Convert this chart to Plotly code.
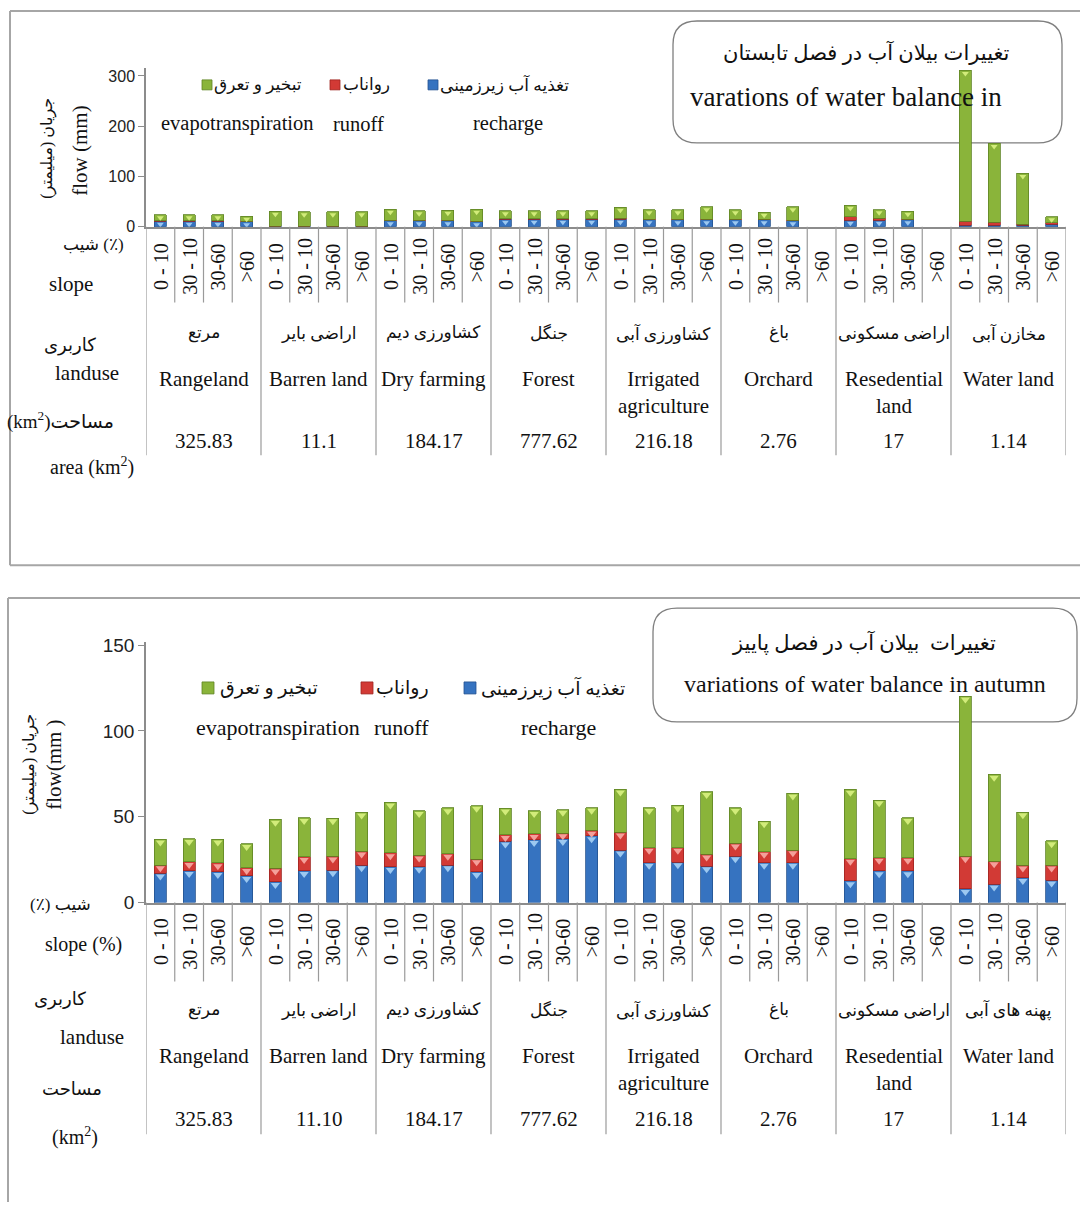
import plotly.graph_objects as go

W, H = 1080, 1213
# The photographed page is vertically offset/compressed slightly; compensate so that
# reference pixel positions land where they appear in the reference.
Y_OFF, Y_S = 6.0, 0.9867
def px(x): return x / W
def py(y): return 1 - ((y - Y_OFF) / Y_S) / H

SERIF = "Liberation Serif, DejaVu Serif, DejaVu Sans"
SANS = "Liberation Sans, Arial, DejaVu Sans"

slopes = ["0 - 10", "30 - 10", "30-60", ">60"]
landuse_en = ["Rangeland", "Barren land", "Dry farming", "Forest",
              "Irrigated<br>agriculture", "Orchard", "Resedential<br>land", "Water land"]
landuse_fa_summer = ["مرتع", "اراضی بایر", "کشاورزی دیم", "جنگل",
                     "کشاورزی آبی", "باغ", "اراضی مسکونی", "مخازن آبی"]
landuse_fa_autumn = ["مرتع", "اراضی بایر", "کشاورزی دیم", "جنگل",
                     "کشاورزی آبی", "باغ", "اراضی مسکونی", "پهنه های آبی"]
area_summer = ["325.83", "11.1", "184.17", "777.62", "216.18", "2.76", "17", "1.14"]
area_autumn = ["325.83", "11.10", "184.17", "777.62", "216.18", "2.76", "17", "1.14"]

# Summer (mm)
summer_recharge = [11, 11, 11, 10,  0.5, 0.5, 0.5, 0.5,  12, 12, 12, 10,  15, 15, 15, 15,
                   15, 14, 14, 14,  14, 14, 12, None,  13, 13, 14, None,  3, 3, 3, 5]
summer_runoff = [1, 1, 1, 1,  0.5, 0.5, 0.5, 0.5,  1, 1, 1, 1,  1, 1, 1, 1,
                 2, 1, 1, 1,  1, 1, 1, None,  7, 4, 1, None,  8, 6, 2, 3]
summer_et = [12, 12, 12, 10,  30, 29, 29, 29,  22, 19, 20, 24,  16, 16, 16, 16,
             22, 19, 19, 25,  19, 14, 27, None,  23, 17, 16, None,  300, 157, 101, 12]

# Autumn (mm)
autumn_recharge = [17.0, 18.5, 17.9, 15.6,  12.1, 18.5, 18.9, 21.8,  20.8, 21.0, 21.8, 17.9,
                   35.7, 36.6, 37.2, 38.8,  30.5, 23.3, 23.6, 21.3,  27.1, 23.3, 23.3, None,
                   12.6, 18.4, 18.4, None,  8.1, 10.7, 14.5, 13.0]
autumn_runoff = [4.8, 5.2, 5.2, 4.6,  7.8, 8.1, 8.1, 8.1,  8.1, 6.6, 6.7, 7.4,
                 3.8, 3.5, 3.3, 3.2,  10.4, 8.7, 8.4, 6.8,  7.4, 6.4, 7.3, None,
                 13.0, 7.8, 7.8, None,  19.0, 13.5, 7.2, 8.7]
autumn_et = [15.0, 13.5, 13.7, 14.1,  28.5, 22.8, 22.2, 22.7,  29.5, 25.8, 26.6, 31.2,
             15.4, 13.3, 13.7, 13.3,  25.1, 23.2, 24.6, 36.4,  20.7, 17.8, 33.0, None,
             40.3, 33.5, 23.2, None,  93.1, 50.4, 31.0, 14.2]

legend_fa = ["تغذیه آب زیرزمینی", "رواناب", "تبخیر و تعرق"]
legend_en = ["recharge", "runoff", "evapotranspiration"]

BLUE, BLUE_D, BLUE_L = "#3673C0", "#24528F", "#9CC8F0"
RED, RED_D, RED_L = "#D23A35", "#9E2420", "#F4A09A"
GREEN, GREEN_D, GREEN_L = "#8AB43A", "#5F8424", "#D2EC7A"
COLORS = [(BLUE, BLUE_D, BLUE_L), (RED, RED_D, RED_L), (GREEN, GREEN_D, GREEN_L)]

n = 32
xs = list(range(n))
fig = go.Figure()

def add_panel(xa, ya, series, ppu, tri_size):
    base = [0.0] * n
    for vals, (c, cd, cl) in zip(series, COLORS):
        fig.add_trace(go.Bar(x=xs, y=vals, xaxis=xa, yaxis=ya, width=0.42,
                             marker=dict(color=c, line=dict(color=cd, width=0.8)),
                             showlegend=False, hoverinfo="y"))
        tx, ty = [], []
        for i, v in enumerate(vals):
            if v is None:
                continue
            top = base[i] + v
            if v * ppu >= 5:
                tx.append(i)
                ty.append(top - 3.2 / ppu)
            base[i] = top
        fig.add_trace(go.Scatter(x=tx, y=ty, xaxis=xa, yaxis=ya, mode="markers",
                                 marker=dict(symbol="triangle-down", size=tri_size, color=cl,
                                             line=dict(width=0)),
                                 showlegend=False, hoverinfo="skip"))

TOP_PPU = (226 - 75) / 300.0
BOT_PPU = (903 - 645) / 150.0
add_panel("x", "y", [summer_recharge, summer_runoff, summer_et], TOP_PPU, 6)
add_panel("x2", "y2", [autumn_recharge, autumn_runoff, autumn_et], BOT_PPU, 8)

XD = [px(146), px(1066)]
AX = dict(range=[-0.5, 31.5], domain=XD, showticklabels=False, ticks="",
          showgrid=False, zeroline=False, showline=True, linecolor="#8C8C8C", linewidth=1.5)
YA = dict(showgrid=False, zeroline=False, showline=True, linecolor="#8C8C8C", linewidth=1.5,
          ticks="outside", ticklen=6, tickcolor="#8C8C8C", color="#222")
top_max = 300 + (75 - 67) / TOP_PPU
bot_max = 150 + (645 - 642) / BOT_PPU
fig.update_layout(
    width=W, height=H, margin=dict(l=0, r=0, t=0, b=0),
    paper_bgcolor="white", plot_bgcolor="rgba(0,0,0,0)",
    barmode="stack", showlegend=False,
    xaxis=dict(AX, anchor="y"),
    yaxis=dict(YA, domain=[py(226), py(67)], range=[0, top_max], tickvals=[0, 100, 200, 300],
               tickfont=dict(family=SANS, size=16)),
    xaxis2=dict(AX, anchor="y2"),
    yaxis2=dict(YA, domain=[py(903), py(642)], range=[0, bot_max], tickvals=[0, 50, 100, 150],
                tickfont=dict(family=SANS, size=19)),
)

shapes = []
annotations = []

def ann(x, y, text, size=19, xref="paper", angle=0, font=SERIF, xanchor="center", yanchor="middle", color="#111"):
    annotations.append(dict(x=x, y=y, xref=xref, yref="paper", text=text, showarrow=False,
                            textangle=angle, xanchor=xanchor, yanchor=yanchor,
                            font=dict(family=font, size=size, color=color)))

def line(x0, y0, x1, y1, xref="paper", color="#9A9A9A", width=1.2, layer="above"):
    shapes.append(dict(type="line", x0=x0, x1=x1, y0=y0, y1=y1, xref=xref, yref="paper",
                       line=dict(color=color, width=width), layer=layer))

def rounded_box(x0, y0, x1, y1, r, color="#7F7F7F", width=1.3):
    rx, ry = r / W, r / H
    X0, X1, Y0, Y1 = px(x0), px(x1), py(y0), py(y1)
    p = (f"M {X0+rx},{Y0} L {X1-rx},{Y0} Q {X1},{Y0} {X1},{Y0-ry} "
         f"L {X1},{Y1+ry} Q {X1},{Y1} {X1-rx},{Y1} L {X0+rx},{Y1} Q {X0},{Y1} {X0},{Y1+ry} "
         f"L {X0},{Y0-ry} Q {X0},{Y0} {X0+rx},{Y0} Z")
    shapes.append(dict(type="path", path=p, xref="paper", yref="paper", layer="below",
                       fillcolor="white", line=dict(color=color, width=width)))

# Outer frames (edges kept inside the page)
FR = "#A6A6A6"
line(px(10), py(10), 1.0, py(10), color=FR, width=2, layer="below")
line(px(10), py(10), px(10), py(565), color=FR, width=2, layer="below")
line(px(10), py(565), 1.0, py(565), color=FR, width=2, layer="below")
line(px(8), py(598), 1.0, py(598), color=FR, width=2, layer="below")
line(px(8), py(598), px(8), 0.0, color=FR, width=2, layer="below")

# Title boxes
rounded_box(673, 20, 1062, 142, 24)
ann(px(866), py(52), "تغییرات بیلان آب در فصل تابستان", size=21)
ann(px(846), py(96), "varations of water balance in", size=27)
rounded_box(653, 608, 1077, 722, 24)
ann(px(864), py(642), "تغییرات  بیلان آب در فصل پاییز", size=21)
ann(px(865), py(684), "variations of water balance in autumn", size=24)

def table(xa, y_axis, y_slope_end, y_group_end, y_slope, y_fa, y_en, y_area, fa_names, areas, sz):
    for b in range(n + 1):
        xb = b - 0.5
        yend = y_group_end if b % 4 == 0 else y_slope_end
        line(xb, py(y_axis), xb, py(yend), xref=xa)
    for i in range(n):
        ann(i, py(y_slope), slopes[i % 4], size=20, xref=xa, angle=-90)
    for g in range(8):
        xc = 4 * g + 1.5
        ann(xc, py(y_fa), fa_names[g], size=17, xref=xa)
        ann(xc, py(y_en - 13), landuse_en[g], size=sz, xref=xa, yanchor="top")
        ann(xc, py(y_area), areas[g], size=sz, xref=xa)

table("x", 226, 302, 455, 266, 333, 378, 441, landuse_fa_summer, area_summer, 21)
table("x2", 903, 982, 1135, 942, 1011, 1056, 1120, landuse_fa_autumn, area_autumn, 21)

# Left-side row labels (top)
ann(px(93), py(244), "شیب (٪)", size=17)
ann(px(71), py(283), "slope", size=21)
ann(px(70), py(345), "کاربری", size=18)
ann(px(87), py(373), "landuse", size=21)
ann(px(60), py(420), "(km<sup>2</sup>)مساحت", size=19)
ann(px(92), py(466), "area (km<sup>2</sup>)", size=20)
ann(px(48), py(148), "جریان (میلیمتر)", size=16, angle=-90)
ann(px(80), py(150), "flow (mm)", size=21, angle=-90)

# Left-side row labels (bottom)
ann(px(60), py(905), "(٪) شیب", size=17)
ann(px(83), py(945), "slope (%)", size=20)
ann(px(60), py(1000), "کاربری", size=18)
ann(px(92), py(1038), "landuse", size=21)
ann(px(72), py(1090), "مساحت", size=18)
ann(px(75), py(1137), "(km<sup>2</sup>)", size=20)
ann(px(30), py(765), "جریان (میلیمتر)", size=16, angle=-90)
ann(px(54), py(765), "flow(mm )", size=21, angle=-90)

# Legends
def legend(y_fa, y_en, sq, fa_x, en_x, fa_size, en_size, sqs):
    for k in range(3):
        c, cd, cl = COLORS[k]
        x0 = sq[k]
        shapes.append(dict(type="rect", xref="paper", yref="paper",
                           x0=px(x0), x1=px(x0 + sqs), y0=py(y_fa + sqs / 2), y1=py(y_fa - sqs / 2),
                           fillcolor=c, line=dict(color=cd, width=0.8)))
        ann(px(fa_x[k]), py(y_fa), legend_fa[k], size=fa_size, xanchor="left")
        ann(px(en_x[k]), py(y_en), legend_en[k], size=en_size)

legend(84, 123, [428, 330, 202], [438, 341, 212], [508, 358, 237], 17, 20.5, 10)
legend(688, 728, [464, 361, 202], [479, 374, 218], [558, 401, 278], 19, 22, 12)

fig.update_layout(shapes=shapes, annotations=annotations)
fig.write_html("out.html", config={"displayModeBar": False},
               post_script="document.body.style.margin='0';document.body.style.padding='0';"
                           "document.documentElement.style.overflow='hidden';")
